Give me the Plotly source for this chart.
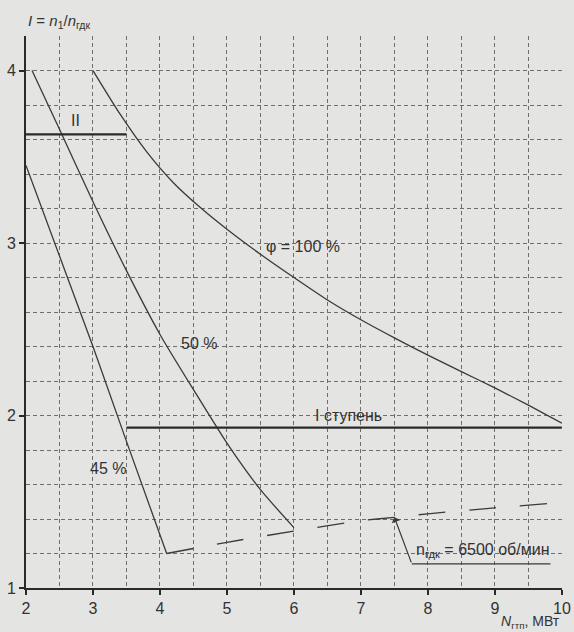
import plotly.graph_objects as go

# ---- data ----
phi100_x = [3.0, 3.4, 3.8, 4.2, 4.62, 5.0, 5.5, 6.0, 6.5, 7.0, 7.5, 8.0, 8.5, 9.0, 9.5, 10.0]
phi100_y = [4.0, 3.75, 3.53, 3.35, 3.2, 3.08, 2.935, 2.80, 2.67, 2.555, 2.45, 2.35, 2.255, 2.16, 2.06, 1.955]

phi50_x = [2.09, 2.5, 3.0, 3.5, 4.0, 4.5, 5.0, 5.5, 6.0]
phi50_y = [4.0, 3.66, 3.24, 2.84, 2.47, 2.15, 1.84, 1.57, 1.35]

phi45_x = [2.0, 2.5, 3.0, 3.5, 3.83, 4.1]
phi45_y = [3.45, 2.92, 2.40, 1.85, 1.49, 1.2]

n6500_x = [4.1, 5.0, 6.0, 7.0, 7.5, 8.0, 9.0, 9.8]
n6500_y = [1.2, 1.265, 1.33, 1.39, 1.41, 1.43, 1.465, 1.49]

stageII_x = [2.0, 3.5]
stageII_y = [3.63, 3.63]
stageI_x = [3.5, 10.0]
stageI_y = [1.93, 1.93]

leader_x = [9.83, 7.76]
leader_y = [1.14, 1.14]
arrow_tip = (7.5, 1.41)

x_ticks = [2, 3, 4, 5, 6, 7, 8, 9, 10]
y_ticks = [1, 2, 3, 4]

# ---- style ----
FONT = "Liberation Sans, Arial, sans-serif"
INK = "#333333"
LINE = "#3a3a3a"
GRID = "#6e6e6e"
BG = "#e4e4e2"
FS = 16

fig = go.Figure()

def curve(x, y, width=1.3, dash="solid", shape="spline", color=LINE):
    fig.add_trace(go.Scatter(x=x, y=y, mode="lines",
                             line=dict(color=color, width=width, dash=dash,
                                       shape=shape, smoothing=0.6 if shape == "spline" else None),
                             hoverinfo="skip", showlegend=False))

curve(phi100_x, phi100_y)
curve(phi50_x, phi50_y)
curve(phi45_x, phi45_y, shape="linear")
curve(n6500_x, n6500_y, dash="27px,24px", shape="spline")
curve(stageII_x, stageII_y, width=2.2, shape="linear", color="#2a2a2a")
curve(stageI_x, stageI_y, width=2.2, shape="linear", color="#2a2a2a")
curve(leader_x, leader_y, width=1.2, shape="linear")

ann = []
# arrow from leader bend to tip
ann.append(dict(x=arrow_tip[0], y=arrow_tip[1], ax=leader_x[-1], ay=leader_y[-1],
                xref="x", yref="y", axref="x", ayref="y", text="",
                showarrow=True, arrowhead=1, arrowsize=1.3, arrowwidth=1.2, arrowcolor=LINE))

def label(text, x, y, xref="x", yref="y", xanchor="center", yanchor="middle", size=FS):
    ann.append(dict(text=text, x=x, y=y, xref=xref, yref=yref, showarrow=False,
                    xanchor=xanchor, yanchor=yanchor, borderpad=0,
                    font=dict(family=FONT, size=size, color=INK)))

label("φ = 100 %", 6.13, 2.98)
label("50 %", 4.59, 2.42)
label("45 %", 3.23, 1.69)
label("II", 2.74, 3.71)
label("I ступень", 6.81, 2.0)
label("n<sub>гдк</sub> = 6500 об/мин", 8.81, 1.22)
label("<i>I</i> = <i>n</i><sub>1</sub>/<i>n</i><sub>гдк</sub>", 0.002, 1.027, xref="paper", yref="paper",
      xanchor="left", size=15)
label("<i>N</i><sub>гтп</sub>, МВт", 0.998, -0.0797, xref="paper", yref="paper",
      xanchor="right", yanchor="bottom", size=14)

fig.update_layout(
    width=574, height=632,
    margin=dict(l=26, r=12, t=36, b=44),
    paper_bgcolor=BG, plot_bgcolor=BG,
    font=dict(family=FONT, size=FS, color=INK),
    annotations=ann,
    showlegend=False,
)

axis_common = dict(
    showline=True, linecolor="#2a2a2a", linewidth=2, mirror=False,
    zeroline=False, showgrid=True, gridcolor=GRID, gridwidth=1, griddash="4px,3px",
    ticks="outside", ticklen=5, tickcolor="#2a2a2a", tickwidth=1.5,
    tickfont=dict(family=FONT, size=FS, color=INK), automargin=False,
)

fig.update_xaxes(range=[2, 10.002], tickvals=x_ticks, ticktext=[str(v) for v in x_ticks],
                 minor=dict(dtick=0.5, tick0=2, showgrid=True, gridcolor=GRID, gridwidth=1,
                            griddash="4px,3px", ticks=""),
                 **axis_common)
fig.update_yaxes(range=[1, 4.2005], tickvals=y_ticks, ticktext=[str(v) for v in y_ticks],
                 minor=dict(dtick=0.2, tick0=1, showgrid=True, gridcolor=GRID, gridwidth=1,
                            griddash="4px,3px", ticks=""),
                 **axis_common)

fig.write_html("out.html", config={"displayModeBar": False},
               post_script="document.body.style.margin='0';")
